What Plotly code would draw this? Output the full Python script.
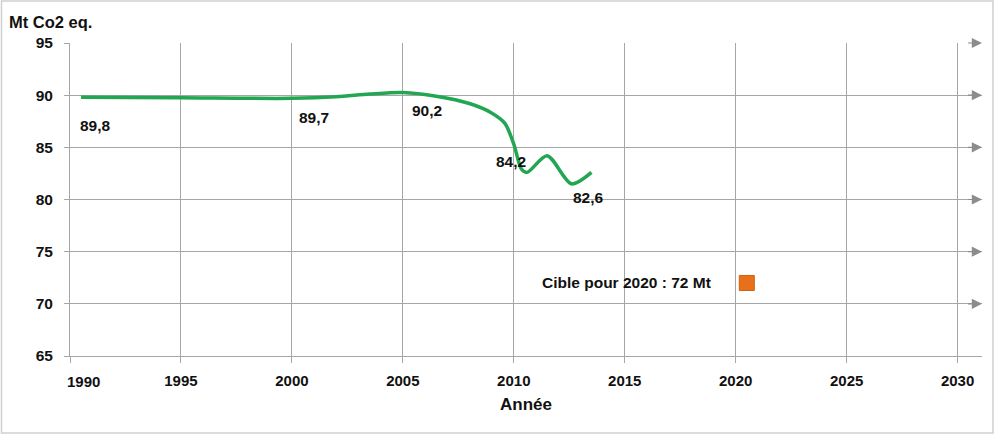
import plotly.graph_objects as go

# Emissions (Mt CO2 eq.)
YEARS = [1990.5, 1995, 2000, 2002, 2003.5, 2005, 2006.5, 2008, 2009, 2009.6,
         2010.0, 2010.35, 2010.6, 2011.5, 2012.6, 2013.5]
EMISSIONS = [89.8, 89.75, 89.7, 89.85, 90.1, 90.25, 89.9, 89.2, 88.3, 87.3,
             85.3, 82.9, 82.6, 84.2, 81.5, 82.6]

# Labelled values on the curve
LABEL_YEARS = [1990.5, 2000, 2005, 2010, 2013.5]
LABEL_VALUES = [89.8, 89.7, 90.2, 84.2, 82.6]
LABEL_SHIFTS = [(14, -28), (22, -19), (24, -17), (-3, -6), (-3, -25)]

TARGET_YEAR = [2020.5]
TARGET_VALUE = [72]
TARGET_TEXT = "Cible pour 2020 : 72 Mt"

X_TICKS = [1990, 1995, 2000, 2005, 2010, 2015, 2020, 2025, 2030]
Y_TICKS = [65, 70, 75, 80, 85, 90, 95]

GRID = '#A6A6A6'
GREEN = '#22A652'
ORANGE = '#E8701A'
FONT = 'Liberation Sans'
TXT = '#111111'

fig = go.Figure()

fig.add_trace(go.Scatter(
    x=YEARS, y=EMISSIONS,
    mode='lines',
    line=dict(color=GREEN, width=3.5, shape='spline', smoothing=0.8),
    showlegend=False, hoverinfo='x+y'
))

fig.add_trace(go.Scatter(
    x=TARGET_YEAR, y=TARGET_VALUE,
    mode='markers',
    marker=dict(symbol='square', size=15, color=ORANGE,
                line=dict(color='#D0600E', width=1)),
    showlegend=False
))

annotations = []
for yr, val, (dx, dy) in zip(LABEL_YEARS, LABEL_VALUES, LABEL_SHIFTS):
    annotations.append(dict(
        x=yr, y=val, xref='x', yref='y',
        text=f"{val:.1f}".replace('.', ','),
        showarrow=False, xshift=dx, yshift=dy,
        font=dict(family=FONT, size=15.5, color=TXT, weight='bold')
    ))

# target label, to the left of the marker
annotations.append(dict(
    x=TARGET_YEAR[0], y=TARGET_VALUE[0], xref='x', yref='y',
    text=TARGET_TEXT, showarrow=False, xanchor='right', xshift=-34,
    font=dict(family=FONT, size=15.5, color=TXT, weight='bold')
))

# arrow heads at the end of horizontal gridlines
for v in Y_TICKS[1:]:
    annotations.append(dict(
        x=2031.1, y=v, xref='x', yref='y',
        ax=2030.4, ay=v, axref='x', ayref='y',
        text='', showarrow=True, arrowhead=2, arrowsize=1.7,
        arrowwidth=1.2, arrowcolor='#8C8C8C'
    ))

# first tick label sits to the right of its tick
annotations.append(dict(
    x=1990, y=65, xref='x', yref='y', text='1990', showarrow=False,
    xanchor='left', yanchor='top', xshift=-5, yshift=-15,
    font=dict(family=FONT, size=15, color=TXT, weight='bold')
))

# y axis unit (placed in paper coords from pixel position)
annotations.append(dict(
    x=(7 - 70) / 912, y=(356 - 22) / 313, xref='paper', yref='paper',
    text='Mt Co2 eq.', showarrow=False, xanchor='left', yanchor='middle',
    font=dict(family=FONT, size=16.5, color=TXT, weight='bold')
))

fig.update_layout(
    width=1000, height=435,
    margin=dict(l=70, r=18, t=43, b=79),
    paper_bgcolor='white', plot_bgcolor='white',
    font=dict(family=FONT, color=TXT),
    xaxis=dict(
        range=[1990, 2031.1],
        tickmode='array', tickvals=X_TICKS,
        ticktext=[''] + [str(t) for t in X_TICKS[1:]],
        showgrid=True, gridcolor=GRID, gridwidth=1,
        zeroline=False,
        showline=True, linecolor=GRID, linewidth=1,
        ticks='outside', ticklen=6, tickcolor=GRID,
        ticklabelstandoff=5,
        tickfont=dict(family=FONT, size=15, color=TXT, weight='bold'),
        title=dict(text='Année', standoff=10,
                   font=dict(family=FONT, size=17, color=TXT, weight='bold')),
        fixedrange=True
    ),
    yaxis=dict(
        range=[65, 95],
        tickmode='array', tickvals=Y_TICKS,
        showgrid=True, gridcolor=GRID, gridwidth=1,
        zeroline=False,
        showline=True, linecolor=GRID, linewidth=1,
        ticks='outside', ticklen=5, tickcolor=GRID,
        ticklabelstandoff=8,
        tickfont=dict(family=FONT, size=15.5, color=TXT, weight='bold'),
        fixedrange=True
    ),
    annotations=annotations,
    shapes=[dict(type='rect', xref='paper', yref='paper',
                 x0=(1.5 - 70) / 912, x1=(993 - 70) / 912,
                 y0=(356 - 433) / 313, y1=(356 - 1) / 313,
                 line=dict(color='#D0D0D0', width=1.5), layer='below')]
)

fig.write_html("out.html", config={'displayModeBar': False},
               post_script="document.body.style.margin='0';")
